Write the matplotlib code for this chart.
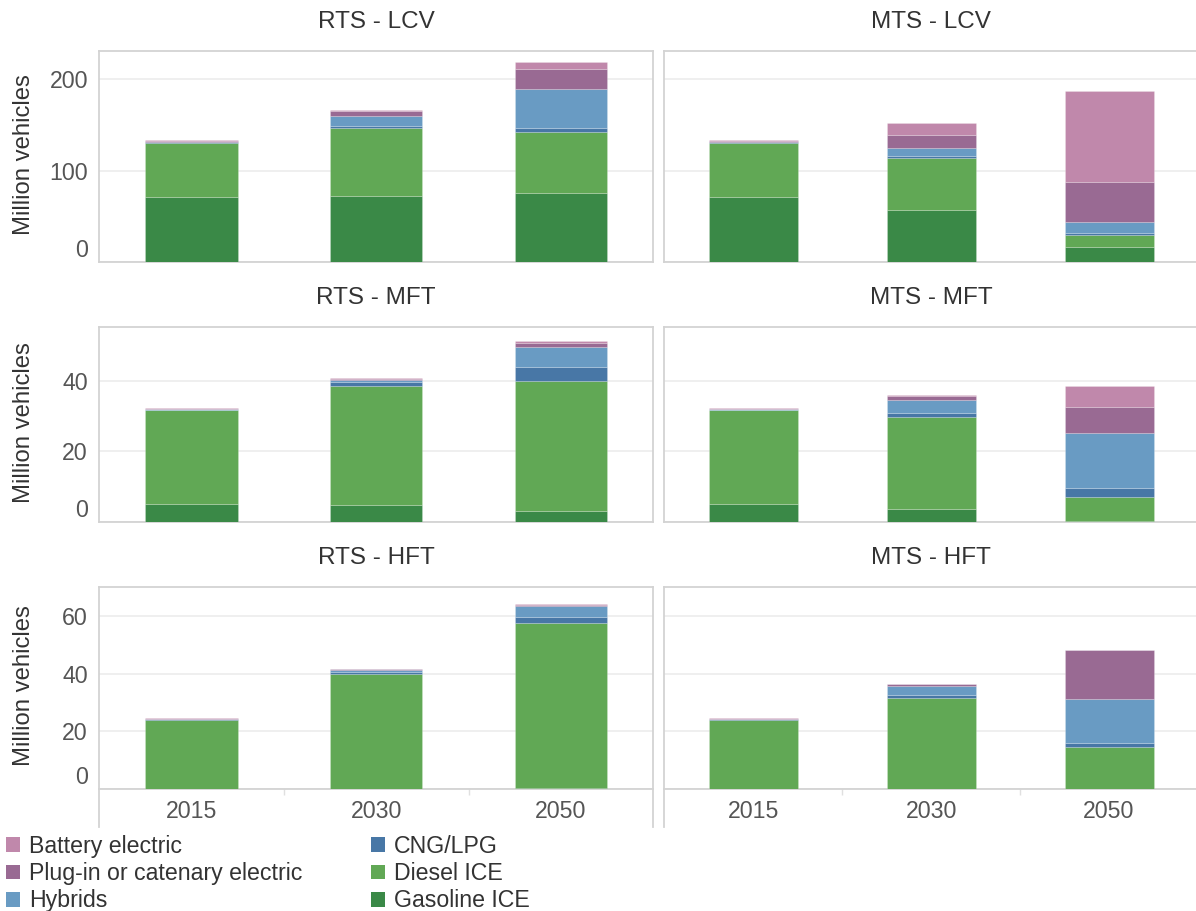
import matplotlib
matplotlib.use("Agg")
import matplotlib.pyplot as plt
from matplotlib.patches import Patch
from matplotlib.lines import Line2D
import numpy as np

plt.rcParams['font.family'] = ['Liberation Sans', 'DejaVu Sans']

years = ['2015', '2030', '2050']
# stacking order bottom -> top
techs = ['Gasoline ICE', 'Diesel ICE', 'CNG/LPG', 'Hybrids',
         'Plug-in or catenary electric', 'Battery electric']
tech_colors = ['#3a8947', '#61a855', '#4877a6', '#699bc3', '#996a93', '#c088ab']

# rows follow `techs`, columns follow `years` (million vehicles)
RTS_LCV = [[71.0, 72.4, 76.0],
           [59.5, 74.5, 66.5],
           [1.0, 2.6, 4.0],
           [0.5, 10.5, 43.0],
           [0.8, 5.8, 21.4],
           [0.5, 1.1, 8.0]]
MTS_LCV = [[71.0, 57.5, 17.1],
           [59.5, 57.0, 13.4],
           [1.0, 1.9, 1.9],
           [0.5, 9.1, 11.6],
           [0.8, 13.4, 44.0],
           [0.5, 13.5, 98.9]]
RTS_MFT = [[5.3, 4.9, 3.1],
           [26.4, 33.7, 36.9],
           [0.1, 0.9, 3.8],
           [0.1, 0.7, 5.6],
           [0.1, 0.4, 1.2],
           [0.15, 0.2, 0.5]]
MTS_MFT = [[5.3, 3.8, 0.4],
           [26.4, 25.9, 6.8],
           [0.1, 1.1, 2.5],
           [0.1, 3.7, 15.5],
           [0.1, 1.2, 7.3],
           [0.15, 0.2, 6.1]]
RTS_HFT = [[0.05, 0.05, 0.5],
           [24.0, 39.7, 57.2],
           [0.1, 0.9, 2.1],
           [0.1, 0.5, 3.5],
           [0.1, 0.3, 0.4],
           [0.2, 0.2, 0.5]]
MTS_HFT = [[0.05, 0.05, 0.05],
           [24.0, 31.6, 14.6],
           [0.1, 0.9, 1.3],
           [0.1, 3.0, 15.3],
           [0.1, 0.7, 17.0],
           [0.2, 0.1, 0.1]]

panel_titles = [['RTS - LCV', 'MTS - LCV'],
                ['RTS - MFT', 'MTS - MFT'],
                ['RTS - HFT', 'MTS - HFT']]
panel_data = [[RTS_LCV, MTS_LCV], [RTS_MFT, MTS_MFT], [RTS_HFT, MTS_HFT]]
row_ticks = [[0, 100, 200], [0, 20, 40], [0, 20, 40, 60]]
row_ylim = [230.6, 55.25, 70.2]

W, H = 1196, 911
fig = plt.figure(figsize=(W / 100, H / 100), dpi=100)

col_x = [(99, 653.3), (664.3, 1198)]
row_y = [(51.3, 262.5), (326.7, 522.3), (586.5, 789)]

grid_c = '#ececec'
spine_c = '#d3d3d3'
tick_c = '#555555'
text_c = '#333333'
FS = 16.7
FS_TITLE = 17.5
FS_YLAB = 17.2

axes = []
for r in range(3):
    for c in range(2):
        x0, x1 = col_x[c]
        yt, yb = row_y[r]
        ax = fig.add_axes([x0 / W, 1 - yb / H, (x1 - x0) / W, (yb - yt) / H])
        data = np.array(panel_data[r][c])
        x = np.arange(len(years))
        bottom = np.zeros(len(years))
        for i, t in enumerate(techs):
            ax.bar(x, data[i], 0.5, bottom=bottom, color=tech_colors[i],
                   edgecolor=(1, 1, 1, 0.22), linewidth=0.6, zorder=3)
            bottom += data[i]
        ax.set_xlim(-0.5, 2.5)
        ax.set_ylim(0, row_ylim[r])
        ax.set_yticks(row_ticks[r])
        ax.yaxis.grid(True, color=grid_c, linewidth=1.2, zorder=0)
        ax.set_axisbelow(True)
        for s in ax.spines.values():
            s.set_color(spine_c)
            s.set_linewidth(1.3)
        ax.tick_params(axis='y', length=0, pad=8, labelsize=FS, labelcolor=tick_c)
        if c == 1:
            ax.tick_params(axis='y', labelleft=False)
        else:
            labs = ax.get_yticklabels()
            labs[0].set_va('bottom')
        if r == 2:
            ax.set_xticks(x)
            ax.set_xticklabels(years)
            ax.tick_params(axis='x', length=0, pad=8, labelsize=FS, labelcolor=tick_c)
            ax.set_xticks([0.5, 1.5], minor=True)
            ax.tick_params(axis='x', which='minor', length=4.5, color='#e0e0e0',
                           width=1.0, direction='out')
        else:
            ax.set_xticks([])
        ax.text(0.5, 1 + 29 / (yb - yt), panel_titles[r][c], transform=ax.transAxes,
                ha='center', va='center', fontsize=FS_TITLE, color=text_c)
        if c == 0:
            fig.text(24 / W, 1 - ((yt + yb) / 2 - 2) / H, 'Million vehicles', rotation=90,
                     ha='center', va='center', fontsize=FS_YLAB, color=text_c)
        axes.append(ax)

# header frame lines below the bottom axes
for xv in [99, 653.3, 664.3]:
    fig.add_artist(Line2D([xv / W, xv / W], [1 - 789 / H, 1 - 827 / H],
                          transform=fig.transFigure, color=spine_c, linewidth=1.3))

# legend (two columns)
order1 = ['Battery electric', 'Plug-in or catenary electric', 'Hybrids']
order2 = ['CNG/LPG', 'Diesel ICE', 'Gasoline ICE']
cmap = dict(zip(techs, tech_colors))
for names, xl in [(order1, 6), (order2, 371)]:
    handles = [Patch(facecolor=cmap[n], edgecolor='none') for n in names]
    fig.legend(handles, names, loc='upper left',
               bbox_to_anchor=(xl / W, 1 - 835 / H), frameon=False,
               fontsize=FS, handlelength=0.6, handleheight=0.6,
               handletextpad=0.38, labelspacing=0.18, borderpad=0,
               borderaxespad=0, labelcolor=text_c)

fig.savefig('out.png', dpi=100, facecolor='white')
